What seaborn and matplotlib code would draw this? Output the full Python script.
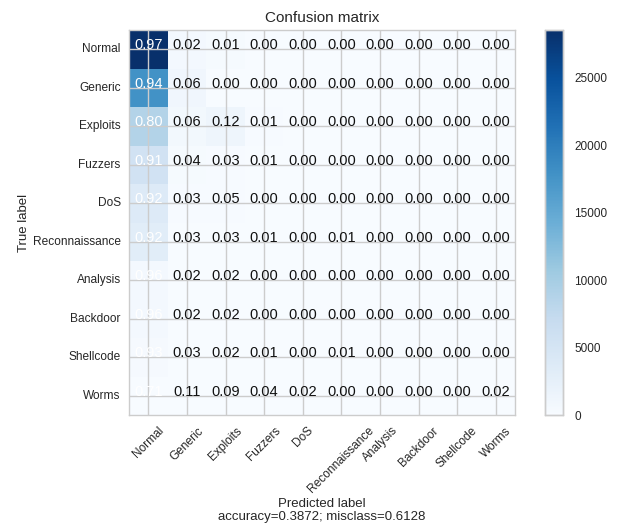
import numpy as np
import pandas as pd
import matplotlib
matplotlib.use("Agg")
import matplotlib.pyplot as plt
import seaborn as sns

# Class names (rows = true label, columns = predicted label)
classes = ["Normal", "Generic", "Exploits", "Fuzzers", "DoS",
           "Reconnaissance", "Analysis", "Backdoor", "Shellcode", "Worms"]

# Raw confusion-matrix counts, one list per true class
normal_row    = [28520, 600, 280, 5, 2, 1, 0, 0, 1, 1]
generic_row   = [17740, 1090, 30, 6, 2, 1, 0, 1, 1, 0]
exploits_row  = [8900, 670, 1340, 150, 30, 20, 5, 7, 6, 4]
fuzzers_row   = [5520, 240, 190, 70, 10, 20, 3, 4, 3, 2]
dos_row       = [3760, 120, 190, 10, 5, 2, 1, 1, 0, 0]
recon_row     = [3210, 100, 110, 40, 5, 25, 2, 2, 1, 1]
analysis_row  = [650, 14, 12, 1, 0, 0, 0, 0, 0, 0]
backdoor_row  = [558, 12, 11, 1, 1, 0, 0, 0, 0, 0]
shellcode_row = [352, 11, 8, 3, 1, 3, 0, 0, 0, 0]
worms_row     = [32, 5, 4, 2, 1, 0, 0, 0, 0, 1]

cbar_ticks = [0, 5000, 10000, 15000, 20000, 25000]
summary_text = "accuracy=0.3872; misclass=0.6128"

cm = np.array([normal_row, generic_row, exploits_row, fuzzers_row, dos_row,
               recon_row, analysis_row, backdoor_row, shellcode_row, worms_row],
              dtype=float)
cm_df = pd.DataFrame(cm, index=classes, columns=classes)
norm = cm / cm.sum(axis=1, keepdims=True)

sns.set_style("whitegrid")
plt.rcParams["font.family"] = ["Liberation Sans", "DejaVu Sans"]

W, H = 618, 529
fig = plt.figure(figsize=(W / 100, H / 100), dpi=100)
ax = fig.add_axes([129 / W, (H - 415) / H, 386 / W, 385 / H])
cax = fig.add_axes([545 / W, (H - 415) / H, 18 / W, 385 / H])

sns.heatmap(cm_df, ax=ax, cbar_ax=cax, cmap="Blues", vmin=0,
            annot=norm, fmt=".2f",
            annot_kws={"fontsize": 10.5, "va": "baseline"},
            cbar_kws={"ticks": cbar_ticks})

# colour the cell labels from the normalised values
thresh = norm.max() / 1.5
for txt, val in zip(ax.texts, norm.flat):
    txt.set_color("white" if val > thresh else "#111111")

# image below the grid so grid lines show on top of the cells
for coll in ax.collections:
    coll.set_zorder(0)
ax.grid(True, color=".8", linewidth=1)
ax.set_axisbelow(True)
for s in ax.spines.values():
    s.set_visible(True)
    s.set_color(".8")
    s.set_linewidth(1)

ax.set_xticks(np.arange(len(classes)) + 0.5)
ax.set_yticks(np.arange(len(classes)) + 0.5)
ax.set_xticklabels(classes, rotation=45, ha="center", fontsize=8.6, color=".15")
ax.set_yticklabels(classes, rotation=0, fontsize=8.6, color=".15")
ax.tick_params(axis="x", length=0, pad=7)
ax.tick_params(axis="y", length=0, pad=6)

ax.set_title("Confusion matrix", fontsize=11, color=".15", pad=6)
ax.set_ylabel("True label", fontsize=9.5, color=".15")
ax.yaxis.set_label_coords(-0.257, 0.5)
ax.set_xlabel("Predicted label\n" + summary_text, fontsize=9.5, color=".15",
              linespacing=1.05)
ax.xaxis.set_label_coords(0.5, -0.216)
ax.xaxis.label.set_va("top")

cax.tick_params(labelsize=8.5, colors=".15", length=0, pad=8)
for s in cax.spines.values():
    s.set_visible(True)
    s.set_color(".8")
    s.set_linewidth(1)

fig.savefig("out.png", dpi=100)
